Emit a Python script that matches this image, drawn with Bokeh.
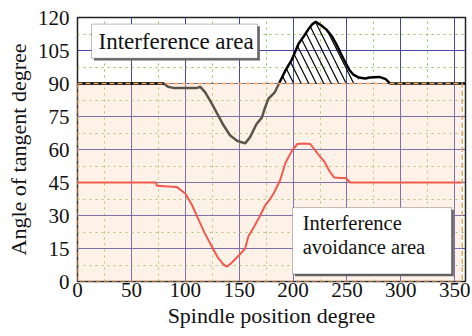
import numpy as np
from bokeh.plotting import figure
from bokeh.models import FixedTicker, BoxAnnotation, Label, Range1d
from bokeh.embed import file_html
from bokeh.resources import INLINE

# ---- data ----
x_ticks = [0, 50, 100, 150, 200, 250, 300, 350]
x_minor = [25, 75, 125, 175, 225, 275, 325]
y_ticks = [0, 15, 30, 45, 60, 75, 90, 105, 120]
y_minor = [7.5, 22.5, 37.5, 52.5, 67.5, 82.5, 97.5, 112.5]

black_x = [0, 80, 80, 187, 193, 199, 205, 210, 214, 218, 221, 226, 231, 236,
           240, 244, 248, 252.5, 256, 261, 267, 271, 280, 286, 290, 360]
black_y = [90, 90, np.nan, 90, 96, 101, 108, 111.5, 114.5, 117, 118, 116.5, 114.5, 111.5,
           108, 104, 100, 96, 94, 92.7, 92.3, 92.7, 93, 92, 90, 90]

gray_x = [0, 80, 84, 89, 111, 114, 118.5, 124.5, 130.5, 135.5, 141.5, 148,
          155.5, 160, 166, 171, 174, 177, 183, 187]
gray_y = [90, 90, 88.5, 88, 88, 88.5, 86, 81, 75.5, 71, 66.5, 64,
          62.8, 65.5, 71.5, 74.5, 79, 83, 86, 90]

red_x = [0, 73, 73.5, 92, 100, 106, 112, 118, 124, 130, 135, 138.5, 142, 146, 151,
         155.5, 158.5, 164.5, 169.5, 174, 178, 182, 188, 193, 199, 204, 210, 216,
         223, 229, 234, 238, 245, 249.5, 250, 253, 357]
red_y = [45, 45, 43.5, 43, 40, 35, 28.5, 22, 16.5, 11, 8, 6.7, 8, 10, 12.5,
         15, 20.5, 25.5, 30, 34.5, 37, 40, 46, 54, 59.5, 62.5, 62.7, 62.5,
         58, 54.5, 50, 47.3, 47, 47, 46.5, 45, 45]

avoid_left, avoid_right, avoid_bottom, avoid_top = 0, 357, 0, 90
hatch_from, hatch_to = 187, 262

SERIF = "Liberation Serif"

p = figure(width=472, height=336, x_range=Range1d(0, 360), y_range=Range1d(0, 120),
           output_backend="svg", toolbar_location=None,
           min_border_left=77, min_border_right=7, min_border_top=17, min_border_bottom=55)
p.background_fill_color = "white"
p.border_fill_color = "white"
p.outline_line_color = "#222222"
p.outline_line_width = 1.5

p.xaxis.ticker = FixedTicker(ticks=x_ticks, minor_ticks=x_minor)
p.yaxis.ticker = FixedTicker(ticks=y_ticks, minor_ticks=y_minor)
for ax in (p.xaxis, p.yaxis):
    ax.axis_line_color = None
    ax.major_tick_line_color = None
    ax.minor_tick_line_color = None
    ax.major_tick_out = 0
    ax.major_tick_in = 0
    ax.minor_tick_out = 0
    ax.major_label_text_font = SERIF
    ax.major_label_text_font_size = "21px"
    ax.major_label_text_color = "#111111"
    ax.axis_label_text_font = SERIF
    ax.axis_label_text_font_size = "22px"
    ax.axis_label_text_font_style = "normal"
    ax.axis_label_text_color = "#111111"
p.xaxis.major_label_standoff = 1
p.xaxis.axis_label_standoff = 3
p.yaxis.major_label_standoff = 8
p.yaxis.axis_label_standoff = 4
p.xaxis.axis_label = "Spindle position degree"
p.yaxis.axis_label = "Angle of tangent degree"

for g in (p.xgrid, p.ygrid):
    g.grid_line_color = "#4646a8"
    g.grid_line_width = 1
    g.minor_grid_line_color = "#8cc05a"
    g.minor_grid_line_dash = "2 4"
    g.minor_grid_line_width = 1

# interference avoidance area (fill)
p.quad(left=[avoid_left], right=[avoid_right], bottom=[avoid_bottom], top=[avoid_top],
       fill_color="#fbd8b8", fill_alpha=0.28, line_color=None,
       hatch_pattern="diagonal_cross", hatch_color="#f0b080", hatch_alpha=0.18,
       hatch_scale=4, hatch_weight=0.5)

# interference area hatch
bx = np.array(black_x, dtype=float)
by = np.array(black_y, dtype=float)
sel = (bx >= hatch_from) & (bx <= hatch_to) & ~np.isnan(by)
p.varea(x=bx[sel], y1=np.full(sel.sum(), float(avoid_top)), y2=by[sel],
        fill_alpha=0, hatch_pattern="left_diagonal_line", hatch_color="black",
        hatch_scale=15, hatch_weight=1.2)

p.line(red_x, red_y, line_color="#f25a50", line_width=2)
p.line(gray_x, gray_y, line_color="#5c554a", line_width=2.5)
p.line(black_x, black_y, line_color="black", line_width=2.5)

# dashed border of avoidance area
p.quad(left=[avoid_left], right=[avoid_right], bottom=[avoid_bottom], top=[avoid_top],
       fill_color=None, line_color="#f4a35c", line_dash="5 3", line_width=1.5)

# text boxes
def text_box(l, r, b, t):
    p.add_layout(BoxAnnotation(left=l + 2.2, right=r + 2.2, bottom=b - 1.0, top=t - 1.0,
                               fill_color="#666666", fill_alpha=1, line_color=None))
    p.add_layout(BoxAnnotation(left=l, right=r, bottom=b, top=t,
                               fill_color="white", fill_alpha=1,
                               line_color="#222222", line_width=1))

text_box(13, 167, 101.5, 117)
text_box(199.5, 347, 3.4, 33.6)

p.add_layout(Label(x=19.5, y=109.3, text="Interference area", text_font=SERIF,
                   text_font_size="23px", text_baseline="middle", text_color="#111111"))
p.add_layout(Label(x=209, y=26.5, text="Interference", text_font=SERIF,
                   text_font_size="20.5px", text_baseline="middle", text_color="#111111"))
p.add_layout(Label(x=209, y=15.8, text="avoidance area", text_font=SERIF,
                   text_font_size="20.5px", text_baseline="middle", text_color="#111111"))

open("out.html", "w").write(file_html(p, INLINE))
